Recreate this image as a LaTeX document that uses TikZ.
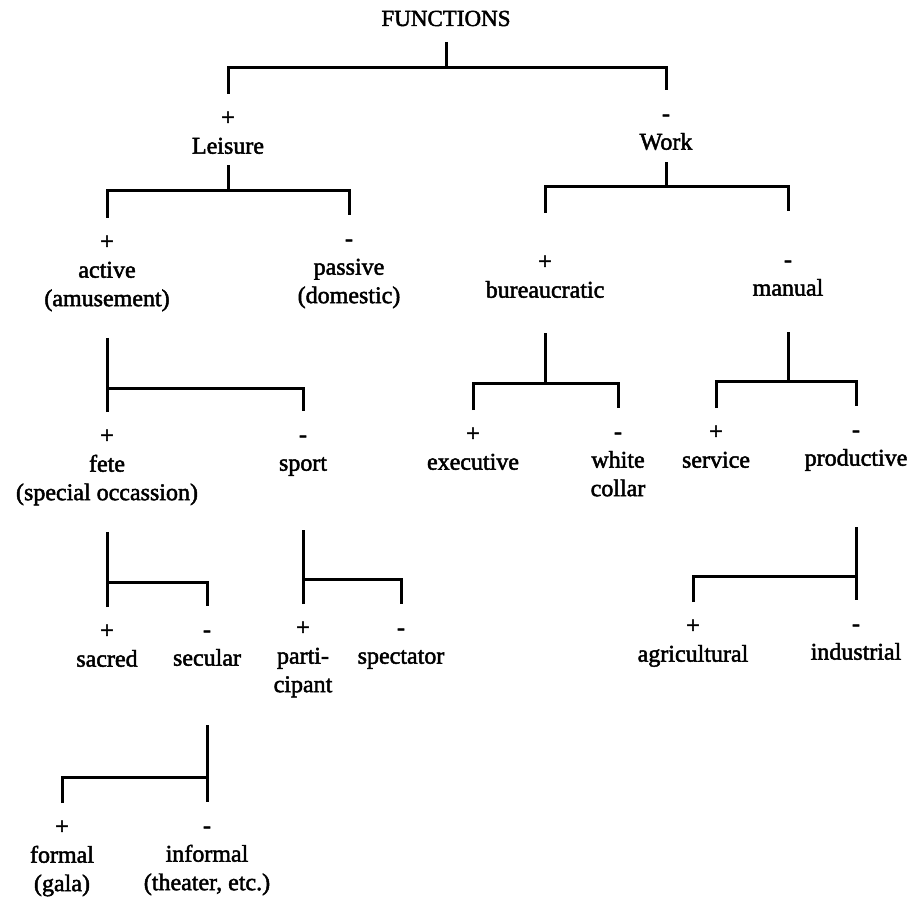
\documentclass[tikz,border=0pt]{standalone}
\usepackage{fontspec}
\setmainfont{Liberation Serif}[FakeBold=2]
\newcommand{\plusf}[1]{\strut+\\#1\strut}
\newcommand{\minusf}[1]{\strut-\\#1\strut}

\begin{document}
\begin{tikzpicture}[x=1pt,y=-1pt]

\tikzset{feat/.style = {font=\fontsize{24}{28.5}\selectfont, align=center, inner xsep=0pt, inner ysep=11pt, anchor=north, yshift=25pt}}
\tikzset{branch/.style = {line width=3pt}}
\useasboundingbox (0,0) rectangle (907,901);

%features
\node[font=\fontsize{23}{28}\selectfont, inner sep=0pt, anchor=base] (fn) at (446,26) {FUNCTIONS};
\node[feat] (leis) at (228,119) {\plusf{Leisure}};
\node[feat] (work) at (666,115) {\minusf{Work}};
\node[feat] (act) at (107,243) {\plusf{active\\(amusement)}};
\node[feat] (pas) at (349,240) {\minusf{passive\\(domestic)}};
\node[feat] (bur) at (545,263) {\plusf{bureaucratic}};
\node[feat] (man) at (788,261) {\minusf{manual}};
\node[feat] (fete) at (107,437) {\plusf{fete\\(special occassion)}};
\node[feat] (sport) at (303,436) {\minusf{sport}};
\node[feat] (exe) at (473,435) {\plusf{executive}};
\node[feat] (whc) at (618,433) {\minusf{white\\collar}};
\node[feat] (serv) at (716,433) {\plusf{service}};
\node[feat] (prod) at (856,431) {\minusf{productive}};
\node[feat] (sac) at (107,632) {\plusf{sacred}};
\node[feat] (sec) at (207,631) {\minusf{secular}};
\node[feat] (part) at (303,629) {\plusf{parti-\\cipant}};
\node[feat] (spec) at (401,629) {\minusf{spectator}};
\node[feat] (agr) at (693,627) {\plusf{agricultural}};
\node[feat] (ind) at (856,625) {\minusf{industrial}};
\node[feat] (form) at (62,828) {\plusf{formal\\(gala)}};
\node[feat] (inf) at (207,827) {\minusf{informal\\(theater, etc.)}};

%branches
\coordinate (j0) at (fn |- 0,68);
\draw[branch] ([yshift=-16pt]fn.base) -- (j0);
\draw[branch] (leis.north) |- (j0) -| (work.north);

\coordinate (j1) at (leis |- 0,191);
\draw[branch] ([yshift=8pt]leis.south) -- (j1);
\draw[branch] (act.north) |- (j1) -| (pas.north);

\coordinate (j2) at (work |- 0,187);
\draw[branch] ([yshift=7pt]work.south) -- (j2);
\draw[branch] ([yshift=25pt]bur.north) |- (j2) -| ([yshift=25pt]man.north);

\coordinate (j3) at (act |- 0,388);
\draw[branch] ([yshift=-12pt]act.south) -- (j3);
\draw[branch] (fete.north) |- (j3) -| (sport.north);

\coordinate (j4) at (bur |- 0,383);
\draw[branch] ([yshift=-16pt]bur.south) -- (j4);
\draw[branch] (exe.north) |- (j4) -| (whc.north);

\coordinate (j5) at (man |- 0,381);
\draw[branch] ([yshift=-17pt]man.south) -- (j5);
\draw[branch] (serv.north) |- (j5) -| (prod.north);

\coordinate (j6) at (fete |- 0,582);
\draw[branch] ([yshift=-12pt]fete.south) -- (j6);
\draw[branch] (sac.north) |- (j6) -| (sec.north);

\coordinate (j7) at (sport |- 0,579);
\draw[branch] ([yshift=-40pt]sport.south) -- (j7);
\draw[branch] (part.north) |- (j7) -| (spec.north);

\coordinate (j8) at (prod |- 0,576);
\draw[branch] ([yshift=-42pt]prod.south) -- (j8);
\draw[branch] (agr.north) |- (j8) -| (ind.north);

\coordinate (j9) at (sec |- 0,777);
\draw[branch] ([yshift=-40pt]sec.south) -- (j9);
\draw[branch] (form.north) |- (j9) -| (inf.north);

\end{tikzpicture}
\end{document}
